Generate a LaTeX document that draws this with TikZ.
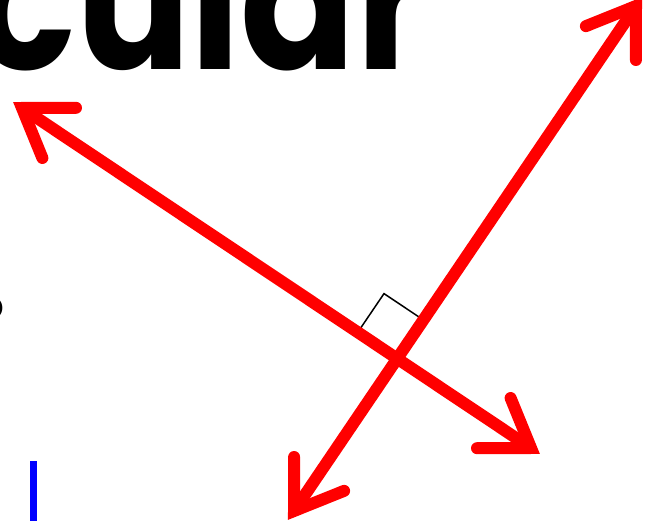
\documentclass[tikz,border=0pt]{standalone}
\usepackage{fontspec}
\usepackage{graphicx}
\newfontfamily\titlefont{Poppins}
\newcommand\myvhead[2]{\draw[headstyle] ([shift={({#2+34}:54)}]#1) -- (#1) -- ([shift={({#2-34}:54)}]#1);}
\begin{document}
\begin{tikzpicture}[x=1pt,y=-1pt,
  redline/.style={line width=12pt, draw={rgb,255:red,255;green,0;blue,0}},
  headstyle/.style={line width=12pt, draw={rgb,255:red,255;green,0;blue,0}, line cap=round, line join=miter, miter limit=10},
  marker/.style={line width=1.5pt, black},
  titletext/.style={anchor=base west, inner sep=0pt, font=\titlefont\bfseries\fontsize{170}{170}\selectfont}]
\useasboundingbox (0,0) rectangle (654,521);
\node[titletext] (title) at (-27,70) {\scalebox{1}[1.15]{cular}};
\node[anchor=east, inner sep=0pt, font=\titlefont\bfseries\fontsize{40}{40}\selectfont] (frag) at (4,308) {o};
\fill[blue] (29.5,461) rectangle (36.5,521);
% right angle marker
\coordinate (M1) at (357.1,333.3);
\coordinate (MC) at (384,293.6);
\coordinate (M2) at (423.9,320.3);
\draw[marker] (M1) -- (MC) -- (M2);
% lines
\coordinate (L1a) at (22,108);
\coordinate (L1b) at (531,448);
\coordinate (L2a) at (294,511);
\coordinate (L2b) at (636,6);
\draw[redline] (L1a) -- (L1b);
\draw[redline] (L2a) -- (L2b);
\myvhead{L1a}{33.8}
\myvhead{L1b}{213.8}
\myvhead{L2a}{-55.9}
\myvhead{L2b}{124.1}
\end{tikzpicture}
\end{document}
